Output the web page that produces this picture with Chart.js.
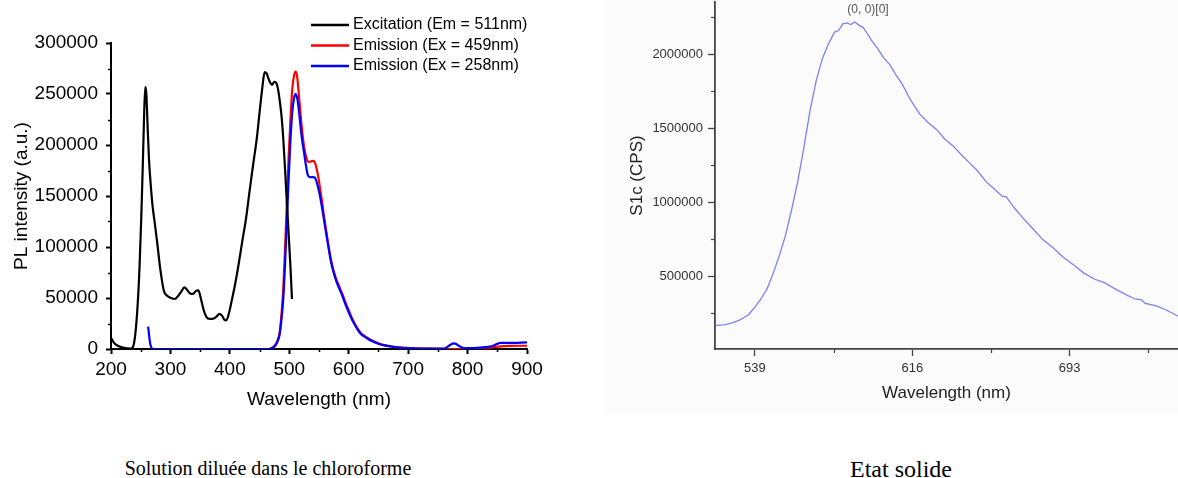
<!DOCTYPE html>
<html>
<head>
<meta charset="utf-8">
<title>Spectres PL</title>
<script src="https://cdn.jsdelivr.net/npm/chart.js@4"></script>
<style>
  html, body { margin: 0; padding: 0; background: #fff; }
  #page { position: relative; width: 1178px; height: 478px; overflow: hidden; background: #fff; }
  #solution-chart { position: absolute; left: 0; top: 0; }
  #solid-bg { position: absolute; left: 605px; top: 0; width: 573px; height: 413px; background: #fbfbfb; }
  #solid-chart { position: absolute; left: 600px; top: 0; }
  .caption {
    position: absolute; width: 400px; text-align: center;
    font-family: 'Liberation Serif', 'Times New Roman', serif; line-height: 1; color: #000;
  }
</style>
</head>
<body>
<div id="page">
  <canvas id="solution-chart" width="560" height="420"></canvas>
  <div id="solid-bg"></div>
  <canvas id="solid-chart" width="578" height="420"></canvas>
  <div class="caption" style="left: 68px; top: 458px; font-size: 20px;">Solution diluée dans le chloroforme</div>
  <div class="caption" style="left: 701px; top: 457px; font-size: 24px;">Etat solide</div>
</div>
<script>
/* ---- données : solution diluée (chloroforme) ---- */
var excitationNm = [200, 205, 212, 220, 228, 233, 237, 241, 245, 248, 251, 253.5, 256, 257.8, 259.5, 261.5, 264, 267, 270, 274,
  278, 283, 289, 295, 301, 307, 313, 318, 323.5, 328, 333, 338, 343, 347, 351, 356, 361, 366, 371, 377,
  382.5, 387, 391, 394, 398, 403, 409, 415, 421, 427, 433, 439, 445, 450, 455, 458.5, 462, 465, 468, 471,
  475, 478, 481, 484, 487, 490, 493, 496, 499, 502, 504.5];
var excitationPL = [11000, 6000, 3000, 1500, 600, 300, 2000, 15000, 45000, 80000, 130000, 180000, 235000, 257000, 250000, 220000, 185000, 160000, 140000, 122000,
  103000, 78000, 57000, 52000, 50000, 49000, 52000, 56000, 60500, 58000, 54500, 54000, 57000, 57500, 50000, 38000, 31000, 29500, 29500, 31500,
  34500, 32500, 28500, 28000, 34000, 47000, 64000, 84000, 106000, 127000, 154000, 180000, 205000, 232000, 258000, 271500, 270000, 265000, 261000, 259000,
  262000, 261000, 255000, 243000, 228000, 205000, 175000, 143000, 112000, 80000, 49000];

var em459Nm = [466, 470, 475, 480, 484, 487, 490, 493, 496, 499, 502, 505, 508, 510.5, 513, 516, 519, 522, 525, 528,
  531, 534, 537, 540, 543, 546, 549, 552, 555, 558, 561, 565, 570, 575, 580, 585, 590, 595, 600, 605,
  610, 615, 620, 630, 640, 650, 660, 675, 690, 710, 730, 750, 765, 780, 800, 820, 840, 855, 870, 900];
var em459PL = [0, 800, 3000, 8000, 17000, 35000, 60000, 100000, 145000, 190000, 225000, 255000, 268000, 272000, 268000, 250000, 230000, 212000, 198000, 189000,
  184000, 183500, 184000, 184500, 183000, 177000, 168000, 157000, 145000, 132000, 120000, 105000, 88000, 76000, 67000, 60000, 53000, 45000, 38000, 31000,
  25000, 20000, 16000, 11500, 8000, 5500, 3800, 2200, 1300, 700, 400, 200, 0, 0, 300, 800, 1500, 2500, 3000, 3200];

var em258Nm = [262.5, 264, 266, 268, 270, 320, 380, 440, 466, 470, 475, 480, 484, 487, 490, 493, 496, 499, 502, 505,
  508, 510.5, 513, 516, 519, 522, 525, 528, 531, 534, 537, 540, 543, 546, 549, 552, 555, 558, 561, 565,
  570, 575, 580, 585, 590, 595, 600, 605, 610, 615, 620, 630, 640, 650, 660, 675, 690, 710, 730, 750,
  760, 766, 772, 777, 782, 788, 795, 810, 830, 842, 850, 855, 870, 900];
var em258PL = [22000, 14000, 5000, 1500, 0, 0, 0, 0, 0, 800, 2500, 7000, 15000, 30000, 50000, 85000, 125000, 168000, 205000, 232000,
  246000, 250000, 247000, 235000, 218000, 203000, 192000, 180000, 171000, 168500, 168500, 168500, 168000, 164000, 157000, 149000, 139000, 128000, 117000, 103000,
  86000, 74000, 65000, 58000, 51000, 43000, 36000, 29500, 24000, 19000, 15000, 10800, 7500, 5200, 3500, 2000, 1200, 600, 400, 300,
  500, 2000, 4500, 5500, 4500, 2200, 900, 1000, 1800, 3000, 5000, 6000, 6000, 6500];

var solutionLabels = ['Excitation (Em = 511nm)', 'Emission (Ex = 459nm)', 'Emission (Ex = 258nm)'];
var solutionXTicks = [200, 300, 400, 500, 600, 700, 800, 900];
var solutionXMinor = [250, 350, 450, 550, 650, 750, 850];
var solutionYTicks = [0, 50000, 100000, 150000, 200000, 250000, 300000];
var solutionYMinor = [25000, 75000, 125000, 175000, 225000, 275000];

/* ---- données : état solide ---- */
var solidNm = [519.7, 524, 528, 532, 536, 539, 542, 545, 548, 551, 554, 557, 560, 563, 566, 569, 572, 575, 578, 580,
  582, 584, 586, 588, 590, 592, 594, 596, 599, 602, 605, 608, 611, 614, 617, 620, 624, 628, 632, 636,
  640, 644, 648, 652, 656, 660, 662, 666, 670, 675, 680, 685, 690, 695, 700, 705, 710, 715, 720, 725,
  728, 730, 735, 740, 746.3];
var solidCPS = [166000, 170000, 184000, 205000, 240000, 290000, 345000, 415000, 520000, 640000, 775000, 950000, 1140000, 1370000, 1620000, 1820000, 1970000, 2070000, 2150000, 2160000,
  2205000, 2212000, 2200000, 2218000, 2195000, 2180000, 2140000, 2095000, 2040000, 1975000, 1930000, 1860000, 1800000, 1720000, 1650000, 1590000, 1535000, 1490000, 1425000, 1380000,
  1320000, 1265000, 1210000, 1140000, 1090000, 1040000, 1035000, 960000, 895000, 820000, 745000, 690000, 625000, 575000, 520000, 480000, 455000, 415000, 378000, 345000,
  340000, 315000, 300000, 272000, 227000];
var solidXTicks = [539, 616, 693];
var solidXMinor = [577.5, 654.5, 731.5];
var solidYTicks = [500000, 1000000, 1500000, 2000000];
var solidYMinor = [250000, 750000, 1250000, 1750000, 2250000];

(function() {
    'use strict';

    Chart.defaults.font.family = "'Liberation Sans', Arial, sans-serif";
    Chart.defaults.devicePixelRatio = 1;

    function pairs(xs, ys) {
        return xs.map(function(x, i) { return { x: x, y: ys[i] }; });
    }
    function fixedTicks(values) {
        return function(scale) {
            scale.ticks = values.map(function(v) { return { value: v }; });
        };
    }

    /* petites graduations (longueur plus courte que les principales) */
    var minorTicks = {
        id: 'minorTicks',
        afterDraw: function(chart, args, opts) {
            var ctx = chart.ctx, area = chart.chartArea;
            ctx.save();
            ctx.strokeStyle = opts.color;
            ctx.lineWidth = opts.width;
            (opts.x || []).forEach(function(v) {
                var px = Math.round(chart.scales.x.getPixelForValue(v)) + 0.5;
                ctx.beginPath();
                ctx.moveTo(px, area.bottom);
                ctx.lineTo(px, area.bottom + opts.length);
                ctx.stroke();
            });
            (opts.y || []).forEach(function(v) {
                var py = Math.round(chart.scales.y.getPixelForValue(v)) + 0.5;
                ctx.beginPath();
                ctx.moveTo(area.left, py);
                ctx.lineTo(area.left - opts.length, py);
                ctx.stroke();
            });
            ctx.restore();
        }
    };

    /* légende à droite, au-dessus du cadre */
    var sideLegend = {
        id: 'sideLegend',
        afterDraw: function(chart, args, opts) {
            if (!opts.display) return;
            var ctx = chart.ctx;
            ctx.save();
            ctx.font = opts.fontSize + "px 'Liberation Sans', Arial, sans-serif";
            ctx.textBaseline = 'middle';
            ctx.fillStyle = '#000';
            chart.data.datasets.forEach(function(ds, i) {
                var y = opts.top + i * opts.rowGap;
                ctx.strokeStyle = ds.borderColor;
                ctx.lineWidth = 2.5;
                ctx.beginPath();
                ctx.moveTo(opts.left, y);
                ctx.lineTo(opts.left + opts.lineLength, y);
                ctx.stroke();
                ctx.fillText(ds.label, opts.left + opts.lineLength + 4, y);
            });
            ctx.restore();
        }
    };

    /* étiquette de courbe Origin "(0, 0)[0]" */
    var curveTag = {
        id: 'curveTag',
        afterDraw: function(chart, args, opts) {
            if (!opts.text) return;
            var ctx = chart.ctx;
            ctx.save();
            ctx.font = "12px 'Liberation Sans', Arial, sans-serif";
            ctx.fillStyle = '#555';
            ctx.textAlign = 'center';
            ctx.textBaseline = 'middle';
            ctx.fillText(opts.text, opts.x, opts.y);
            ctx.restore();
        }
    };

    /* ---- graphique 1 : solution diluée ---- */
    new Chart(document.getElementById('solution-chart'), {
        type: 'line',
        data: {
            datasets: [
                { label: solutionLabels[0], data: pairs(excitationNm, excitationPL), borderColor: '#000000', order: 1 },
                { label: solutionLabels[1], data: pairs(em459Nm, em459PL), borderColor: '#ff0000', order: 3 },
                { label: solutionLabels[2], data: pairs(em258Nm, em258PL), borderColor: '#0000ff', order: 2 }
            ]
        },
        options: {
            responsive: false,
            animation: false,
            events: [],
            elements: {
                line: { borderWidth: 2.2, cubicInterpolationMode: 'monotone', fill: false },
                point: { radius: 0 }
            },
            layout: { padding: { left: 10, top: 43, right: 33, bottom: 8.6 } },
            plugins: {
                legend: { display: false },
                tooltip: { enabled: false },
                sideLegend: { display: true, left: 311, top: 25, rowGap: 20.5, lineLength: 38, fontSize: 16 },
                minorTicks: { x: solutionXMinor, y: solutionYMinor, length: 3, width: 1.5, color: '#000' }
            },
            scales: {
                x: {
                    type: 'linear', min: 200, max: 900,
                    afterBuildTicks: fixedTicks(solutionXTicks),
                    afterFit: function(s) { s.height = 62.4; },
                    grid: { drawOnChartArea: false, tickLength: 5, tickWidth: 2, tickColor: '#000' },
                    border: { color: '#000', width: 2 },
                    ticks: { color: '#000', font: { size: 19 }, padding: 4, autoSkip: false, maxRotation: 0 },
                    title: { display: true, text: 'Wavelength (nm)', color: '#000', font: { size: 19 }, padding: 0 }
                },
                y: {
                    type: 'linear', min: 0, max: 300000,
                    afterBuildTicks: fixedTicks(solutionYTicks),
                    afterFit: function(s) { s.width = 101; },
                    grid: { drawOnChartArea: false, tickLength: 5, tickWidth: 2, tickColor: '#000' },
                    border: { color: '#000', width: 2 },
                    ticks: { color: '#000', font: { size: 19 }, padding: 8, autoSkip: false,
                        callback: function(v) { return String(v); } },
                    title: { display: true, text: 'PL intensity (a.u.)', color: '#000', font: { size: 19 }, padding: 0 }
                }
            }
        },
        plugins: [minorTicks, sideLegend]
    });

    /* ---- graphique 2 : état solide ---- */
    new Chart(document.getElementById('solid-chart'), {
        type: 'line',
        data: {
            datasets: [
                { label: 'S1c', data: pairs(solidNm, solidCPS), borderColor: '#7f7ff2', borderWidth: 1.3, tension: 0 }
            ]
        },
        options: {
            responsive: false,
            animation: false,
            events: [],
            elements: { point: { radius: 0 } },
            layout: { padding: { left: 27, top: 2, right: 0, bottom: 16.8 } },
            plugins: {
                legend: { display: false },
                tooltip: { enabled: false },
                curveTag: { text: '(0, 0)[0]', x: 268, y: 10 },
                minorTicks: { x: solidXMinor, y: solidYMinor, length: 4, width: 1.2, color: '#444' }
            },
            scales: {
                x: {
                    type: 'linear', min: 519.5, max: 746,
                    afterBuildTicks: fixedTicks(solidXTicks),
                    afterFit: function(s) { s.height = 54.2; s.paddingLeft = 0; s.paddingRight = 0; },
                    grid: { drawOnChartArea: false, tickLength: 7, tickWidth: 1.3, tickColor: '#444' },
                    border: { color: '#444', width: 1.8 },
                    ticks: { color: '#333', font: { size: 13 }, padding: 5, autoSkip: false, maxRotation: 0 },
                    title: { display: true, text: 'Wavelength (nm)', color: '#222', font: { size: 17 }, padding: 0 }
                },
                y: {
                    type: 'linear', min: 6757, max: 2353000,
                    afterBuildTicks: fixedTicks(solidYTicks),
                    /* pas de marge réservée pour l'étiquette du haut : l'axe monte jusqu'au bord */
                    afterFit: function(s) { s.width = 88; s.paddingTop = 0; s.paddingBottom = 0; },
                    grid: { drawOnChartArea: false, tickLength: 7, tickWidth: 1.3, tickColor: '#444' },
                    border: { color: '#444', width: 1.8 },
                    ticks: { color: '#333', font: { size: 13 }, padding: 5, autoSkip: false,
                        callback: function(v) { return String(v); } },
                    title: { display: true, text: 'S1c (CPS)', color: '#222', font: { size: 17 }, padding: 0 }
                }
            }
        },
        plugins: [minorTicks, curveTag]
    });
})();
</script>
</body>
</html>
